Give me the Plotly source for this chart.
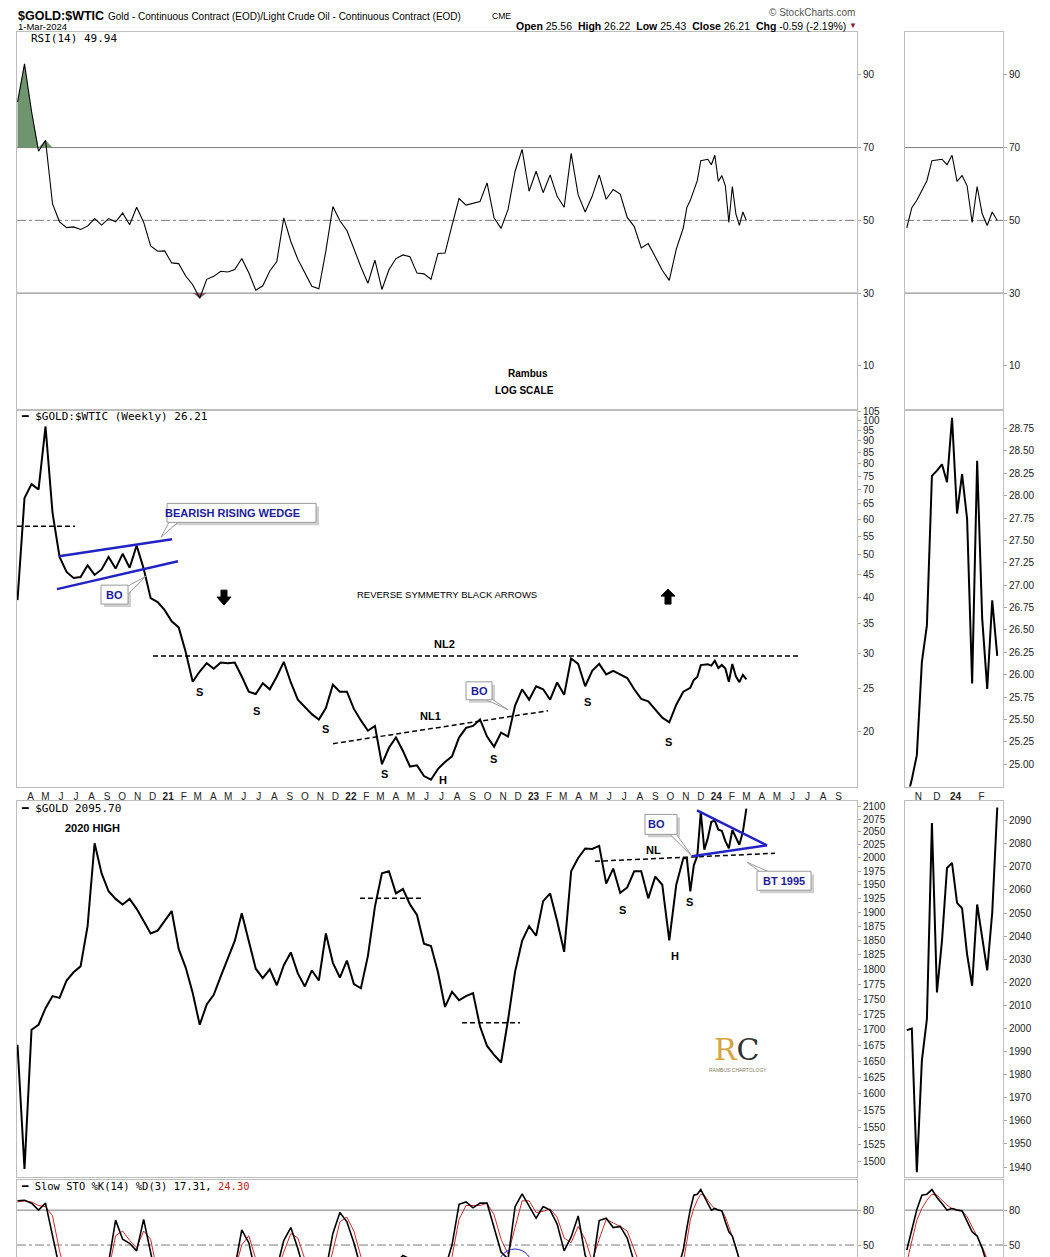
import numpy as np
import pandas as pd
import plotly.graph_objects as go

W, H = 1050, 1257

# ---------------- DATA ----------------
# bi-weekly history (2020-03-06 .. 2023-10-13) and weekly recent (2023-10-27 .. 2024-03-01)
ratio_hist = [39.5, 67, 72, 70, 97, 62, 49.4, 45.7, 44.3, 44.5,
              47.3, 45.0, 46.3, 49.4, 46.5, 50.2, 46.7, 52.4, 46.5, 39.9,
              39.1, 37.5, 35.4, 34.3, 30.2, 25.9, 27.3, 28.5, 27.7, 28.6,
              28.5, 28.6, 26.6, 24.6, 24.3, 25.7, 24.9, 26.6, 28.7, 25.8,
              23.6, 22.7, 21.9, 21.3, 22.6, 25.5, 24.6, 24.6, 22.5, 21.2,
              20.1, 20.6, 16.9, 18.4, 19.4, 18.1, 16.7, 16.8, 15.9, 15.6,
              16.5, 17.1, 17.6, 19.4, 20.4, 20.6, 21.3, 19.5, 18.5, 19.9,
              19.5, 22.9, 24.9, 23.6, 25.3, 24.9, 23.6, 25.8, 24.2, 29.2,
              28.4, 25.3, 27.4, 28.4, 26.9, 27.4, 26.9, 26.4, 24.9, 23.7,
              23.4, 22.4, 21.5, 21.0, 23.0]
ratio_recent = [24.6, 24.83, 25.10, 26.14, 26.55, 28.22, 28.28, 28.35, 28.15, 28.87,
                27.80, 28.24, 27.74, 25.90, 28.39, 26.63, 25.84, 26.83, 26.21]

gold_hist = [1676, 1490, 1700, 1708, 1735, 1755, 1752, 1781, 1795, 1805,
             1875, 2028, 1971, 1938, 1924, 1914, 1924, 1906, 1884, 1862,
             1867, 1884, 1902, 1835, 1803, 1760, 1708, 1741, 1757, 1788,
             1818, 1849, 1898, 1849, 1801, 1785, 1800, 1773, 1807, 1829,
             1793, 1771, 1798, 1781, 1862, 1811, 1786, 1815, 1775, 1768,
             1823, 1910, 1971, 1975, 1934, 1942, 1914, 1895, 1844, 1840,
             1795, 1737, 1762, 1748, 1755, 1760, 1705, 1674, 1660, 1648,
             1716, 1796, 1849, 1875, 1858, 1920, 1934, 1884, 1830, 1975,
             2000, 2018, 2017, 2023, 1952, 1980, 1935, 1945, 1975, 1975,
             1925, 1965, 1950, 1850, 1950]
gold_recent = [1999.3, 2000.0, 1937.8, 1986.1, 2004.1, 2089.0, 2015.6, 2037.9, 2069.5, 2071.7,
               2054.4, 2052.0, 2032.1, 2018.5, 2053.7, 2039.3, 2025.2, 2050.2, 2095.7]

rsi_hist = [82.5, 93, 80, 69, 72, 54.5, 49.6, 48, 48.2, 47.5,
            48.4, 50.5, 48.7, 50.5, 49.6, 52, 48.8, 53.6, 49.5, 43,
            41.5, 41.6, 38.3, 38.1, 34.7, 32.3, 28.6, 33.8, 34.6, 36,
            35.8, 36.5, 39.5, 35.6, 30.8, 32, 36.1, 38.7, 50.7, 44.2,
            39.3, 35.8, 31.9, 31.2, 41.6, 53.8, 49.9, 47.2, 42, 37.2,
            32.7, 39.1, 31, 36.4, 39.5, 40.5, 40, 35.5, 35.3, 33.8,
            40.9, 41, 48.6, 56, 54.2, 54.7, 55.2, 60.3, 50.7, 47.8,
            53, 63.5, 69.5, 58, 63.5, 57.6, 62.5, 56.6, 53.6, 68.4,
            57, 52.3, 56.6, 62.5, 55.8, 58.5, 57.2, 50.8, 48.3, 42.4,
            43.6, 40, 36.3, 33.5, 42.1]
rsi_recent = [47.9, 53.5, 55.5, 58.2, 60.9, 66.4, 66.6, 66.8, 65.3, 67.9,
              60.7, 62.3, 59.5, 49.4, 59.3, 51.8, 48.6, 52.3, 49.94]

stok_hist = [88, 88.5, 86, 80, 86, 58, 30, 15, 20, 25,
             20, 30, 20, 35, 71.4, 55, 51.5, 45, 72, 35,
             15, 10, 12, 20, 15, 8, 5, 20, 25, 30,
             25, 30, 63, 52, 25, 20, 25, 30, 54, 65,
             47, 25, 15, 12, 28, 60, 78, 70, 52, 30,
             20, 25, 15, 30, 35, 41, 38, 25, 15, 10,
             15, 30, 50, 85, 87, 82, 86, 86, 66, 44,
             38, 83, 94, 83, 73, 83, 80, 68, 45, 57,
             75, 41, 30, 71, 73, 65, 66, 56, 35, 25,
             20, 22, 18, 10, 25]
stok_recent = [45.7, 64.3, 80.6, 92.9, 93.7, 97.7, 90.9, 85.7, 80.0, 81.4,
               80.0, 79.4, 70.0, 61.4, 57.7, 47.2, 33.0, 22.0, 17.31]
stod_hist = [87, 88, 87, 84, 83, 75, 45, 22, 18, 22,
             22, 25, 24, 28, 58, 62, 54, 48, 62, 55,
             25, 14, 11, 15, 16, 11, 8, 14, 22, 27,
             27, 28, 50, 58, 38, 24, 23, 27, 44, 60,
             56, 35, 20, 14, 20, 45, 70, 74, 62, 40,
             25, 23, 20, 24, 33, 39, 39, 31, 20, 13,
             13, 22, 40, 72, 84, 84, 84, 86, 76, 55,
             42, 65, 88, 88, 78, 79, 81, 74, 56, 52,
             66, 55, 36, 55, 72, 69, 66, 62, 45, 30,
             23, 21, 20, 15, 18]
stod_recent = [35.0, 52.9, 71.4, 81.4, 88.6, 93.7, 92.9, 88.6, 84.3, 81.4,
               80.6, 79.4, 74.3, 65.7, 57.1, 48.6, 38.0, 28.0, 24.30]

month_letters = ["J", "F", "M", "A", "M", "J", "J", "A", "S", "O", "N", "D"]
rsi_ticks = [10, 30, 50, 70, 90]
ratio_ticks = [20, 25, 30, 35, 40, 45, 50, 55, 60, 65, 70, 75, 80, 85, 90, 95, 100, 105]
gold_ticks = list(range(1500, 2101, 25))
ratio_mini_ticks = [25.00, 25.25, 25.50, 25.75, 26.00, 26.25, 26.50, 26.75, 27.00,
                    27.25, 27.50, 27.75, 28.00, 28.25, 28.50, 28.75]
gold_mini_ticks = list(range(1940, 2091, 10))
sto_ticks = [50, 80]
mini_tick_dates = ["2023-11-12", "2023-12-08", "2024-01-03", "2024-02-08"]
mini_tick_text = ["N", "D", "<b>24</b>", "F"]

hist_dates = pd.date_range(end="2023-10-13", periods=len(ratio_hist), freq="14D")
recent_dates = pd.date_range(start="2023-10-27", periods=len(ratio_recent), freq="7D")
dates = hist_dates.append(recent_dates)

ratio = ratio_hist + ratio_recent
gold = gold_hist + gold_recent
rsi = np.array(rsi_hist + rsi_recent, dtype=float)
stok = stok_hist + stok_recent
stod = stod_hist + stod_recent

# ---------------- FIGURE ----------------
fig = go.Figure()


def line(x, y, xa, ya, color="black", width=1.5):
    fig.add_trace(go.Scatter(x=x, y=y, mode="lines", line=dict(color=color, width=width),
                             xaxis=xa, yaxis=ya, hoverinfo="skip", showlegend=False))


# RSI fills
fig.add_trace(go.Scatter(x=dates, y=np.full(len(dates), 70.0), mode="lines", line=dict(width=0),
                         xaxis="x", yaxis="y", hoverinfo="skip", showlegend=False))
fig.add_trace(go.Scatter(x=dates, y=np.maximum(rsi, 70), mode="lines", line=dict(width=0),
                         fill="tonexty", fillcolor="#6e956e", xaxis="x", yaxis="y",
                         hoverinfo="skip", showlegend=False))
fig.add_trace(go.Scatter(x=dates, y=np.full(len(dates), 30.0), mode="lines", line=dict(width=0),
                         xaxis="x", yaxis="y", hoverinfo="skip", showlegend=False))
fig.add_trace(go.Scatter(x=dates, y=np.minimum(rsi, 30), mode="lines", line=dict(width=0),
                         fill="tonexty", fillcolor="#8e6472", xaxis="x", yaxis="y",
                         hoverinfo="skip", showlegend=False))

line(dates, rsi, "x", "y", width=1.1)
line(dates, ratio, "x2", "y2", width=2)
line(dates, gold, "x3", "y3", width=2)
line(dates, stod, "x4", "y4", color="#d02a2a", width=1)
line(dates, stok, "x4", "y4", width=1.6)

line(recent_dates, rsi_recent, "x5", "y5", width=1.1)
line(recent_dates, ratio_recent, "x6", "y6", width=2)
line(recent_dates, gold_recent, "x7", "y7", width=2)
line(recent_dates, stod_recent, "x8", "y8", color="#d02a2a", width=1)
line(recent_dates, stok_recent, "x8", "y8", width=1.6)

# ---------------- AXES ----------------
XM = [17 / W, 857 / W]
XS = [905 / W, 1003 / W]


def yd(top, bot):
    return [max(0, 1 - bot / H), 1 - top / H]


common = dict(showgrid=False, zeroline=False, showline=True, linecolor="#bdbdbd",
              linewidth=1, mirror=True)
tickfont = dict(family="Arial", size=10, color="#222")

main_range = ["2020-03-05", "2024-10-08"]
mini_range = ["2023-10-24 12:00", "2024-03-09"]

months = pd.date_range("2020-03-01", "2024-09-01", freq="MS")
month_text = [("<b>%02d</b>" % (m.year % 100)) if m.month == 1 else month_letters[m.month - 1]
              for m in months]

lay = dict(width=W, height=H, margin=dict(l=0, r=0, t=0, b=0),
           paper_bgcolor="white", plot_bgcolor="white", showlegend=False,
           font=dict(family="Arial", color="#111"))

for i in range(4):
    n = "" if i == 0 else str(i + 1)
    xa = dict(domain=XM, range=main_range, type="date", anchor="y" + n,
              showticklabels=False, ticks="", **common)
    if i == 1:
        xa.update(showticklabels=True, tickvals=months, ticktext=month_text, tickangle=0,
                  tickfont=tickfont)
    if i > 0:
        xa["matches"] = "x"
    lay["xaxis" + n] = xa
for i in range(4):
    n = str(i + 5)
    xa = dict(domain=XS, range=mini_range, type="date", anchor="y" + n,
              showticklabels=False, ticks="", **common)
    if i == 1:
        xa.update(showticklabels=True, tickvals=mini_tick_dates, ticktext=mini_tick_text,
                  tickangle=0, tickfont=tickfont)
    if i > 0:
        xa["matches"] = "x5"
    lay["xaxis" + n] = xa

yc = dict(side="right", ticks="outside", ticklen=3, tickcolor="#aaa", tickfont=tickfont, **common)
lay["yaxis"] = dict(domain=yd(28, 407), anchor="x", range=[-2.05, 101.8], tickvals=rsi_ticks, **yc)
lay["yaxis2"] = dict(domain=yd(407, 785), anchor="x2", type="log",
                     range=[np.log10(15.06), np.log10(105.8)], tickvals=ratio_ticks,
                     ticktext=[str(v) for v in ratio_ticks], **yc)
lay["yaxis3"] = dict(domain=yd(800, 1177), anchor="x3", type="log",
                     range=[np.log10(1478.4), np.log10(2109.9)], tickvals=gold_ticks,
                     ticktext=[str(v) for v in gold_ticks], **yc)
lay["yaxis4"] = dict(domain=yd(1180, 1257), anchor="x4", range=[39.7, 105.7], tickvals=sto_ticks, **yc)
lay["yaxis5"] = dict(domain=yd(28, 407), anchor="x5", range=[-2.05, 101.8], tickvals=rsi_ticks, **yc)
lay["yaxis6"] = dict(domain=yd(407, 785), anchor="x6", range=[24.75, 28.96],
                     tickvals=ratio_mini_ticks, ticktext=["%.2f" % v for v in ratio_mini_ticks], **yc)
lay["yaxis7"] = dict(domain=yd(800, 1177), anchor="x7", range=[1935.6, 2098.3],
                     tickvals=gold_mini_ticks, **yc)
lay["yaxis8"] = dict(domain=yd(1180, 1257), anchor="x8", range=[39.7, 105.7], tickvals=sto_ticks, **yc)
fig.update_layout(**lay)


# ---------------- REFERENCE LINES ----------------
def hline(xa, ya, val, dash="solid"):
    fig.add_shape(type="line", xref=xa + " domain", yref=ya, x0=0, x1=1, y0=val, y1=val,
                  line=dict(color="#7a7a7a", width=1, dash=dash), layer="below")


for xa, ya in [("x", "y"), ("x5", "y5")]:
    hline(xa, ya, 70)
    hline(xa, ya, 30)
    hline(xa, ya, 50, "dashdot")
for xa, ya in [("x4", "y4"), ("x8", "y8")]:
    hline(xa, ya, 80)
    hline(xa, ya, 50, "dashdot")


# ---------------- ANNOTATION HELPERS (pixel -> paper) ----------------
def px(x):
    return x / W


def py(y):
    return 1 - y / H


def txt(s, x, y, size=11, bold=False, color="black", anchor="center", family="Arial"):
    fig.add_annotation(text=("<b>%s</b>" % s) if bold else s, x=px(x), y=py(y), xref="paper",
                       yref="paper", showarrow=False, xanchor=anchor, yanchor="middle",
                       font=dict(size=size, color=color, family=family))


def seg(x0, y0, x1, y1, color="black", width=1.5, dash="solid"):
    fig.add_shape(type="line", xref="paper", yref="paper", x0=px(x0), y0=py(y0), x1=px(x1),
                  y1=py(y1), line=dict(color=color, width=width, dash=dash))


def poly(pts, fill, lc="#999", lw=1):
    d = "M " + " L ".join("%f,%f" % (px(a), py(b)) for a, b in pts) + " Z"
    fig.add_shape(type="path", xref="paper", yref="paper", path=d, fillcolor=fill,
                  line=dict(color=lc, width=lw))


def rect(x0, y0, x1, y1, fill, lc="#999", lw=1):
    fig.add_shape(type="rect", xref="paper", yref="paper", x0=px(x0), y0=py(y0), x1=px(x1),
                  y1=py(y1), fillcolor=fill, line=dict(color=lc, width=lw))


BLUE_T = "#1c1c9c"
BLUE_L = "#2323c4"


def callout(x0, y0, x1, y1, b1, b2, tip, text, tx=None):
    rect(x0 + 3, y0 + 3, x1 + 3, y1 + 3, "#cfcfcf", lc="rgba(0,0,0,0)", lw=0)
    poly([b1, tip, b2], "white")
    rect(x0, y0, x1, y1, "white")
    txt(text, tx if tx is not None else (x0 + x1) / 2, (y0 + y1) / 2, size=11, bold=True,
        color=BLUE_T)


# ---------------- HEADER ----------------
txt("$GOLD:$WTIC", 16, 12, size=12.5, bold=True, anchor="left")
txt("Gold - Continuous Contract (EOD)/Light Crude Oil - Continuous Contract (EOD)", 106, 13,
    size=10, anchor="left")
txt("CME", 490, 12, size=8.5, anchor="left")
txt("1-Mar-2024", 16, 23, size=9.5, anchor="left")
txt("© StockCharts.com", 857, 9, size=10, color="#555", anchor="right")
txt("<b>Open</b> 25.56  <b>High</b> 26.22  <b>Low</b> 25.43  <b>Close</b> 26.21  "
    "<b>Chg</b> -0.59 (-2.19%)", 848, 22.5, size=10.5, anchor="right")
txt("▼", 853, 22, size=8, color="#8b1a2a")

# pane legends
mono = "DejaVu Sans Mono"
txt("RSI(14) 49.94", 29, 35, size=11, anchor="left", family=mono)
txt("━ $GOLD:$WTIC (Weekly) 26.21", 19, 414, size=11, anchor="left", family=mono)
txt("━ $GOLD 2095.70", 19, 807, size=11, anchor="left", family=mono)
txt("━ Slow STO %K(14) %D(3) 17.31, <span style='color:#c62020'>24.30</span>", 19, 1186,
    size=10.5, anchor="left", family=mono)

txt("Rambus", 528, 371, size=10, bold=True)
txt("LOG SCALE", 524, 388, size=10, bold=True)

# ---------------- RATIO PANE ANNOTATIONS ----------------
seg(17, 524, 75, 524, dash="5px,3px")
seg(153, 654, 800, 654, dash="5px,3px")
seg(333, 742, 548, 709, dash="5px,3px")
seg(59, 554, 172, 537, color=BLUE_L, width=2.5)
seg(57, 587, 178, 559, color=BLUE_L, width=2.5)

callout(167, 501, 316, 520, (170, 518), (180, 518), (161, 535), "BEARISH RISING WEDGE", tx=232)
callout(101, 583, 128, 602, (126, 585), (126, 594), (146, 574), "BO")
callout(466, 680, 492, 698, (482, 696), (490, 696), (508, 708), "BO")

poly([(221, 588), (227, 588), (227, 595), (231, 595), (224, 603), (217, 595), (221, 595)],
     "black", lc="black")
poly([(665, 602), (671, 602), (671, 594), (675, 594), (668, 587), (661, 594), (665, 594)],
     "black", lc="black")
txt("REVERSE SYMMETRY BLACK ARROWS", 447, 592, size=9.5)
txt("NL2", 444, 642, size=11, bold=True)
txt("NL1", 430, 714, size=11, bold=True)
for s, x, y in [("S", 199, 690), ("S", 256, 709), ("S", 325, 727), ("S", 384, 772),
                ("H", 443, 778), ("S", 493, 757), ("S", 587, 700), ("S", 668, 740)]:
    txt(s, x, y, size=11, bold=True)

# ---------------- GOLD PANE ANNOTATIONS ----------------
txt("2020 HIGH", 92, 827, size=11, bold=True)
seg(360, 897, 422, 897, dash="5px,3px")
seg(462, 1022, 520, 1022, dash="5px,3px")
seg(595, 860, 775, 852, dash="5px,3px")
seg(697, 809, 767, 844, color=BLUE_L, width=2.5)
seg(692, 855, 767, 844, color=BLUE_L, width=2.5)
callout(645, 813, 677, 833, (668, 831), (675, 831), (692, 855), "BO", tx=656)
callout(757, 870, 811, 889, (762, 872), (772, 872), (747, 861), "BT 1995")
txt("NL", 653, 849, size=11, bold=True)
for s, x, y in [("S", 622, 909), ("S", 689, 901), ("H", 675, 955)]:
    txt(s, x, y, size=11, bold=True)

# logo
txt("<span style='color:#d6a440'>R</span><span style='color:#333'>C</span>", 737, 1049,
    size=30, family="DejaVu Serif")
txt("RAMBUS CHARTOLOGY", 738, 1069, size=5, color="#8a7a5a")

# STO circle
fig.add_shape(type="circle", xref="paper", yref="paper", x0=px(497), x1=px(533), y0=py(1290),
              y1=py(1249), line=dict(color=BLUE_L, width=1))

fig.write_html("out.html", config={"displayModeBar": False},
               post_script="document.body.style.margin='0';document.body.style.overflow='hidden';")
